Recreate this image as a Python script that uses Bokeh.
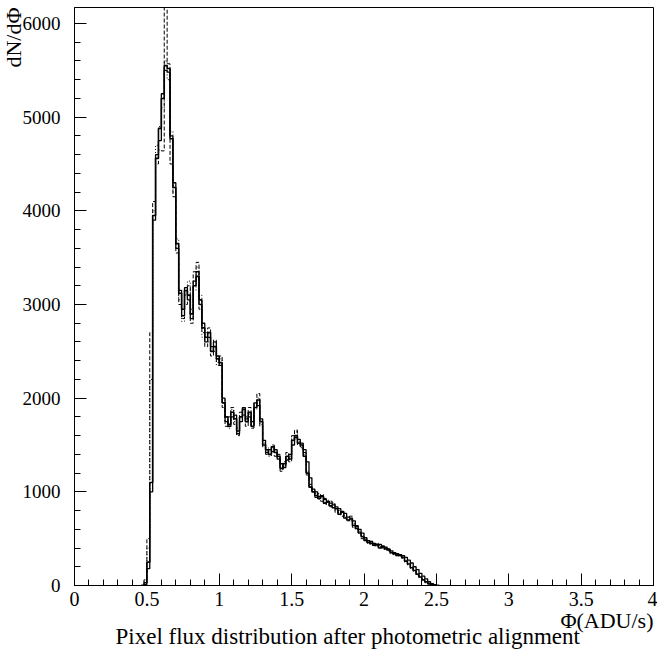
from bokeh.embed import file_html
from bokeh.models import CustomJSTickFormatter, Range1d, SingleIntervalTicker, Title
from bokeh.plotting import figure
from bokeh.resources import INLINE

# Histogram binning (flux in ADU/s)
BIN_START = 0.46
BIN_WIDTH = 0.02

# Pixel counts per bin for the four aligned images
counts_a = [0, 30, 250, 1100, 3950, 4560, 4880, 5200, 5550, 5520,
            4770, 4250, 3650, 3120, 2950, 3150, 3100, 2900, 3200, 3300,
            3050, 2750, 2650, 2700, 2500, 2550, 2420, 2380, 1950, 1800,
            1720, 1850, 1780, 1650, 1800, 1880, 1750, 1850, 1700, 1900,
            1980, 1750, 1500, 1450, 1400, 1480, 1420, 1380, 1250, 1300,
            1380, 1350, 1550, 1600, 1520, 1500, 1380, 1200, 1050, 1000,
            960, 930, 950, 880, 890, 850, 830, 820, 760, 790,
            720, 700, 710, 640, 610, 560, 520, 480, 460, 450,
            430, 440, 400, 420, 390, 380, 350, 340, 320, 320,
            300, 260, 230, 190, 160, 120, 90, 60, 40, 20,
            8, 3, 0]

counts_b = [0, 10, 180, 1000, 3900, 4600, 4750, 5250, 5500, 5480,
            4800, 4300, 3600, 3150, 2880, 3180, 3050, 2850, 3250, 3350,
            3000, 2800, 2600, 2650, 2550, 2600, 2450, 2350, 2000, 1750,
            1700, 1800, 1820, 1620, 1750, 1900, 1780, 1800, 1750, 1950,
            1920, 1780, 1550, 1420, 1450, 1430, 1450, 1350, 1300, 1260,
            1340, 1400, 1500, 1580, 1560, 1520, 1450, 1320, 1150, 1030,
            1000, 950, 960, 920, 900, 880, 860, 840, 820, 780,
            770, 730, 720, 690, 640, 600, 560, 510, 480, 470,
            450, 430, 440, 410, 410, 390, 370, 350, 340, 330,
            320, 300, 270, 240, 200, 170, 130, 100, 70, 40,
            20, 8, 0]

counts_c = [0, 60, 500, 2700, 4100, 4500, 4650, 4640, 6800, 5570,
            4500, 4150, 3550, 3000, 2850, 3000, 3200, 2800, 3350, 3450,
            2950, 2700, 2550, 2750, 2450, 2620, 2380, 2450, 1900, 1700,
            1800, 1900, 1720, 1600, 1850, 1820, 1700, 1900, 1680, 1950,
            2050, 1700, 1480, 1400, 1450, 1500, 1380, 1400, 1220, 1280,
            1420, 1320, 1600, 1660, 1500, 1480, 1420, 1180, 1080, 1020,
            940, 980, 900, 930, 860, 900, 870, 780, 800, 740,
            750, 690, 740, 620, 630, 580, 500, 500, 470, 440,
            440, 420, 430, 400, 400, 370, 360, 330, 330, 310,
            290, 250, 220, 180, 150, 110, 80, 50, 30, 15,
            5, 0, 0]

counts_d = [0, 40, 400, 2200, 4000, 4700, 4900, 5100, 5600, 5400,
            4850, 4200, 3700, 3050, 2820, 3100, 3250, 2950, 3150, 3400,
            3100, 2650, 2700, 2600, 2550, 2500, 2350, 2420, 1980, 1760,
            1680, 1880, 1750, 1680, 1780, 1850, 1800, 1830, 1720, 1880,
            2000, 1720, 1520, 1470, 1380, 1460, 1440, 1360, 1240, 1320,
            1360, 1380, 1570, 1640, 1540, 1470, 1400, 1220, 1060, 1010,
            980, 920, 970, 870, 910, 840, 880, 800, 780, 770,
            730, 710, 690, 660, 600, 570, 530, 490, 450, 460,
            420, 450, 410, 410, 380, 390, 340, 345, 315, 325,
            295, 265, 235, 195, 165, 125, 95, 65, 42, 22,
            9, 2, 0]

x_title = "\u03a6(ADU/s)"
y_title = "dN/d\u03a6"
caption = "Pixel flux distribution after photometric alignment"

SERIF = "Liberation Serif"

p = figure(width=657, height=649, output_backend="svg", toolbar_location=None,
           x_range=Range1d(0, 4), y_range=Range1d(0, 6171),
           min_border_left=74, min_border_right=4, min_border_top=7,
           min_border_bottom=64)
p.xgrid.visible = False
p.ygrid.visible = False
p.outline_line_color = "black"
p.outline_line_width = 1
p.background_fill_color = "white"
p.border_fill_color = "white"

fmt = CustomJSTickFormatter(code="return String(Math.round(tick * 100) / 100);")

p.xaxis.ticker = SingleIntervalTicker(interval=0.5, num_minor_ticks=5)
p.yaxis.ticker = SingleIntervalTicker(interval=1000, num_minor_ticks=5)
for ax in (p.xaxis[0], p.yaxis[0]):
    ax.formatter = fmt
    ax.axis_line_color = "black"
    ax.major_tick_line_color = "black"
    ax.minor_tick_line_color = "black"
    ax.major_tick_in = 12
    ax.major_tick_out = 0
    ax.minor_tick_in = 6
    ax.minor_tick_out = 0
    ax.major_label_text_font = SERIF
    ax.major_label_text_color = "black"
p.xaxis.major_label_text_font_size = "20px"
p.yaxis.major_label_text_font_size = "19px"
p.xaxis.major_label_standoff = 6
p.yaxis.major_label_standoff = 14


def step_xy(counts):
    edges = [round(BIN_START + BIN_WIDTH * i, 4) for i in range(len(counts) + 1)]
    return edges, list(counts) + [counts[-1]]


for counts, dash, width in ((counts_a, "solid", 1.6),
                            (counts_b, "solid", 1.3),
                            (counts_c, "4 2", 1.0),
                            (counts_d, "1 2", 1.0)):
    xs, ys = step_xy(counts)
    p.step(xs, ys, mode="after", line_color="black", line_width=width,
           line_dash=dash)


def text_title(text, align, size, standoff, offset=0):
    return Title(text=text, align=align, standoff=standoff, offset=offset,
                 text_font=SERIF, text_font_size=size,
                 text_font_style="normal", text_color="black")


# axis titles and caption, stacked outside the frame
p.add_layout(text_title(x_title, "right", "22px", -5), "below")
p.add_layout(text_title(caption, "left", "23px", -17, offset=41), "below")
p.add_layout(text_title(y_title, "right", "22px", -12), "left")

open("out.html", "w").write(file_html(p, INLINE))
